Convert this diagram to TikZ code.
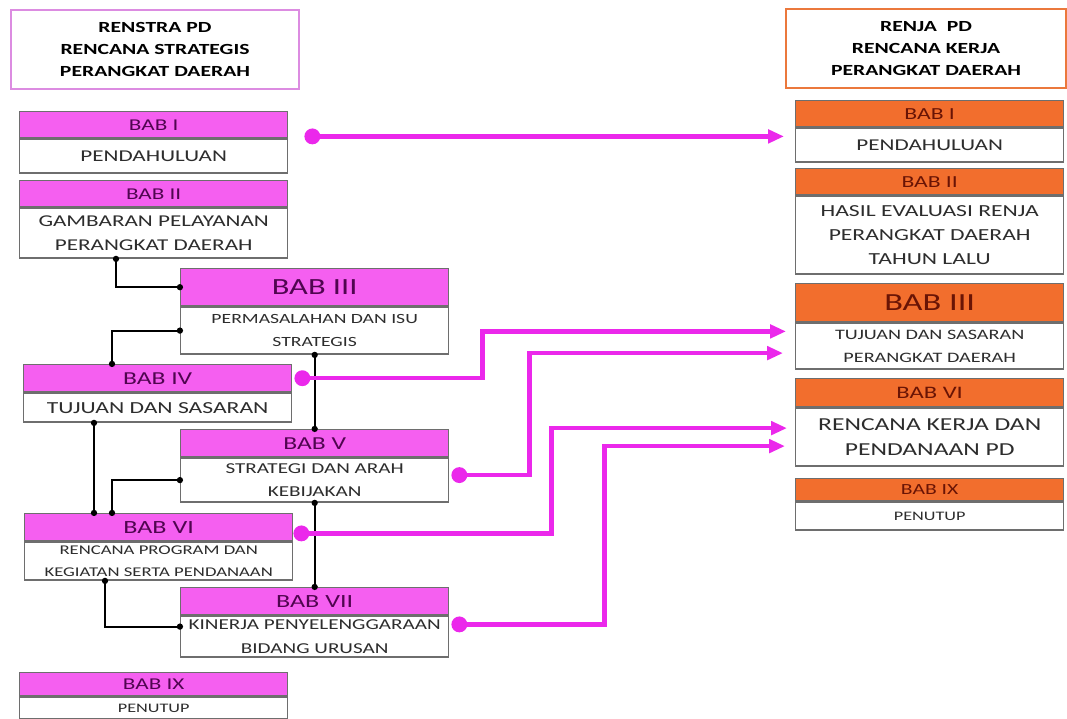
\documentclass[tikz,border=0pt]{standalone}
\usepackage{fontspec}
\setmainfont{Carlito}[FakeStretch=1.4]
\usetikzlibrary{positioning,calc,arrows.meta}

\definecolor{pinkhead}{RGB}{245,95,240}
\definecolor{orangehead}{RGB}{242,110,45}
\definecolor{purpletext}{RGB}{80,5,80}
\definecolor{browntext}{RGB}{105,20,5}
\definecolor{bodytext}{RGB}{45,45,45}
\definecolor{boxgray}{RGB}{110,110,110}
\definecolor{magline}{RGB}{235,40,235}
\definecolor{violetline}{RGB}{220,140,225}
\definecolor{orangeline}{RGB}{235,120,60}

\newcommand{\fs}[2]{\fontsize{#1}{#2}\selectfont}

\begin{document}
\begin{tikzpicture}[x = 0.02cm, y = -0.02cm,
  box/.style = {draw = boxgray, line width = 0.8pt, minimum width = 5.36cm,
    inner sep = 0pt, align = center, anchor = north west, text = bodytext},
  lhead/.style = {box, fill = pinkhead, text = purpletext},
  rhead/.style = {box, fill = orangehead, text = browntext},
  body/.style = {box, fill = white},
  link/.style = {line width = 1.1pt, shorten <= -1.7pt, shorten >= -1.7pt,
    {Circle[length = 3.5pt]}-{Circle[length = 3.5pt]}},
  feed/.style = {magline, line width = 2.5pt, shorten <= -4.5pt,
    {Circle[length = 9pt]}-{Triangle[length = 9pt, width = 7.5pt]}}]
\useasboundingbox (0, 0) rectangle (1067, 718);
% Titles
\node[box, draw = violetline, line width = 1.2pt, minimum width = 5.76cm, minimum height = 1.58cm,
  text = black, font = \bfseries\fs{8.8}{12.5}] (lt) at (10, 9) {RENSTRA PD\\RENCANA STRATEGIS\\PERANGKAT DAERAH};
\node[box, draw = orangeline, line width = 1.2pt, minimum width = 5.6cm, minimum height = 1.58cm,
  text = black, font = \bfseries\fs{8.8}{12.5}] (rt) at (785, 8) {RENJA\ \ PD\\RENCANA KERJA\\PERANGKAT DAERAH};
% Left chapters
\node[lhead, minimum height = 0.52cm, font = \fs{9.4}{12}] (lh1) at (19, 111) {BAB I};
\node[body, minimum height = 0.68cm, below = 0pt of lh1, font = \fs{9.4}{13.6}] (lb1) {PENDAHULUAN};
\node[lhead, minimum height = 0.52cm, font = \fs{9.4}{12}] (lh2) at (19, 180) {BAB II};
\node[body, minimum height = 1.0cm, below = 0pt of lh2, font = \fs{9.4}{13.6}] (lb2) {GAMBARAN PELAYANAN\\PERANGKAT DAERAH};
\node[lhead, minimum height = 0.74cm, font = \fs{13.2}{15}] (lh3) at (180, 268) {BAB III};
\node[body, minimum height = 0.94cm, below = 0pt of lh3, font = \fs{8}{13}] (lb3) {PERMASALAHAN DAN ISU\\STRATEGIS};
\node[lhead, minimum height = 0.54cm, font = \fs{10.4}{12}] (lh4) at (23, 364) {BAB IV};
\node[body, minimum height = 0.58cm, below = 0pt of lh4, font = \fs{9.6}{13}] (lb4) {TUJUAN DAN SASARAN};
\node[lhead, minimum height = 0.54cm, font = \fs{10.4}{12}] (lh5) at (180, 429) {BAB V};
\node[body, minimum height = 0.88cm, below = 0pt of lh5, font = \fs{8.6}{13.2}] (lb5) {STRATEGI DAN ARAH\\KEBIJAKAN};
\node[lhead, minimum height = 0.54cm, font = \fs{10.6}{12}] (lh6) at (24, 513) {BAB VI};
\node[body, minimum height = 0.76cm, below = 0pt of lh6, font = \fs{7.6}{12.4}] (lb6) {RENCANA PROGRAM DAN\\KEGIATAN SERTA PENDANAAN};
\node[lhead, minimum height = 0.54cm, font = \fs{10.6}{12}] (lh7) at (180, 587) {BAB VII};
\node[body, minimum height = 0.82cm, below = 0pt of lh7, font = \fs{8.6}{13.4}] (lb7) {KINERJA PENYELENGGARAAN\\BIDANG URUSAN};
\node[lhead, minimum height = 0.46cm, font = \fs{9.4}{12}] (lh9) at (19, 672) {BAB IX};
\node[body, minimum height = 0.44cm, below = 0pt of lh9, font = \fs{7.4}{12}] (lb9) {PENUTUP};
% Right chapters
\node[rhead, minimum height = 0.52cm, font = \fs{9.6}{12}] (rh1) at (795, 100) {BAB I};
\node[body, minimum height = 0.68cm, below = 0pt of rh1, font = \fs{9.4}{13.6}] (rb1) {PENDAHULUAN};
\node[rhead, minimum height = 0.52cm, font = \fs{9.6}{12}] (rh2) at (795, 168) {BAB II};
\node[body, minimum height = 1.56cm, below = 0pt of rh2, font = \fs{9.6}{13.8}] (rb2) {HASIL EVALUASI RENJA\\PERANGKAT DAERAH\\TAHUN LALU};
\node[rhead, minimum height = 0.76cm, font = \fs{14}{15}] (rh3) at (795, 283) {BAB III};
\node[body, minimum height = 0.92cm, below = 0pt of rh3, font = \fs{8.2}{13}] (rb3) {TUJUAN DAN SASARAN\\PERANGKAT DAERAH};
\node[rhead, minimum height = 0.56cm, font = \fs{10}{12}] (rh6) at (795, 378) {BAB VI};
\node[body, minimum height = 1.16cm, below = 0pt of rh6, font = \fs{10.4}{14}] (rb6) {RENCANA KERJA DAN\\PENDANAAN PD};
\node[rhead, minimum height = 0.44cm, font = \fs{8.8}{12}] (rh9) at (795, 478) {BAB IX};
\node[body, minimum height = 0.56cm, below = 0pt of rh9, font = \fs{7.4}{12}] (rb9) {PENUTUP};
% Black links
\draw[link] ($(lb2.south west)+(97, 0)$) |- (lh3.west);
\draw[link] (lb3.west) -| ($(lh4.north west)+(89, 0)$);
\draw[link] (lb3.south) -- (lh5.north);
\draw[link] ($(lb4.south west)+(71, 0)$) -- ($(lh6.north west)+(70, 0)$);
\draw[link] (lb5.west) -| ($(lh6.north west)+(88, 0)$);
\draw[link] (lb5.south) -- (lh7.north);
\draw[link] ($(lb6.south west)+(81, 0)$) |- ($(lb7.west)+(0, -10)$);
% Magenta links
\draw[feed] ($(lh1.south east)+(24, -2)$) -- ($(rh1.south west)+(-11, 9)$);
\draw[feed] ($(lh4.east)+(10, 0)$) -- ++(180, 0) |- ($(rb3.north west)+(-9, 9)$);
\draw[feed] ($(lb5.east)+(10, -5)$) -- ++(70, 0) |- ($(rb3.west)+(-12, 7)$);
\draw[feed] ($(lh6.south east)+(8, -8)$) -- ++(250, 0) |- ($(rb6.west)+(-8, -9)$);
\draw[feed] ($(lb7.north east)+(10, 9)$) -- ++(145, 0) |- ($(rb6.west)+(-10, 9)$);
\end{tikzpicture}
\end{document}
